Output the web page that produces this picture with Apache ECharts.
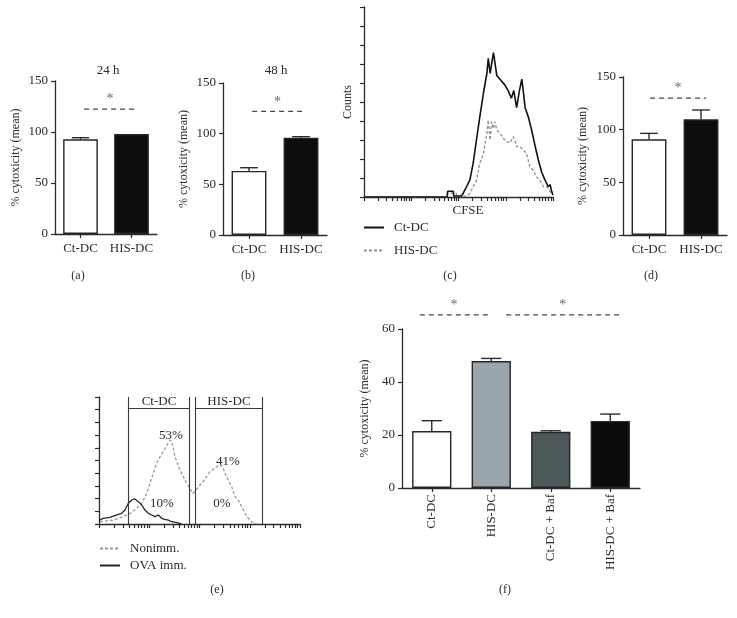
<!DOCTYPE html>
<html><head><meta charset="utf-8">
<script src="https://cdn.jsdelivr.net/npm/echarts@6/dist/echarts.min.js"></script>
<style>html,body{margin:0;padding:0;background:#fff}#main{width:737px;height:618px}</style>
</head><body><div id="main"></div>
<script>
// ---------- data ----------
const barCats = ['Ct-DC', 'HIS-DC'];
const aMean = [92.8, 98.0];
const aUpper = [94.4, 98.0];
const bMean = [63.2, 96.0];
const bUpper = [66.4, 97.0];
const dMean = [90.9, 109.8];
const dUpper = [96.5, 118.7];
const abdTicks = [0, 50, 100, 150];

const fCats = ['Ct-DC', 'HIS-DC', 'Ct-DC + Baf', 'HIS-DC + Baf'];
const fMean = [21.5, 47.9, 21.2, 25.3];
const fUpper = [25.4, 48.9, 21.6, 27.9];
const fTicks = [0, 20, 40, 60];

// significance bars: [from, to, level] in category-band units
const aSig = [0.57, 1.59, 122.5];
const bSig = [0.56, 1.54, 122.0];
const dSig = [0.52, 1.60, 130.0];
const fSig1 = [0.30, 1.45, 65.3];
const fSig2 = [1.75, 3.65, 65.3];

// panel (c) CFSE histograms (x: log10 intensity, y: relative counts)
const cCtX = [0,1.76,1.77,1.89,1.90,2.06,2.10,2.17,2.24,2.31,2.38,2.45,2.53,2.60,2.63,2.67,2.70,2.74,2.77,2.81,2.84,2.91,2.98,3.05,3.12,3.17,3.23,3.29,3.34,3.37,3.41,3.48,3.55,3.62,3.69,3.76,3.83,3.90,3.94,3.97,4.0];
const cCtY = [0,0,3,3,0.5,0.5,2,5.4,8.9,17.7,30,42,55,65,73,65,70,76,77,64,63,61,59,56,52,56,47,56,62,56,47,42,35,27,19.5,13,9,5.4,6.5,3,1];
const cHisX = [0,1.76,1.77,1.95,1.96,2.17,2.24,2.31,2.38,2.45,2.53,2.60,2.63,2.67,2.70,2.74,2.77,2.81,2.88,2.95,3.02,3.09,3.16,3.20,3.23,3.30,3.37,3.44,3.51,3.58,3.65,3.72,3.80,3.87,3.94,3.99];
const cHisY = [0,0,2,2,0.5,0.5,1.9,5.4,8.6,17.7,23,33.5,40.5,30,39.6,36,39.6,35.3,33.5,30.9,29.1,28.5,31.8,29.1,26.5,26.5,24.7,23,15.9,14.2,10.5,8.9,5.4,5.4,2.8,1.9];

// panel (e) histograms
const eNonX = [0.02,0.285,0.484,0.617,0.750,0.849,0.949,1.015,1.081,1.148,1.214,1.280,1.333,1.380,1.426,1.466,1.512,1.559,1.612,1.678,1.745,1.811,1.864,1.910,1.957,2.010,2.076,2.143,2.209,2.275,2.342,2.408,2.461,2.507,2.574,2.640,2.706,2.773,2.839,2.905,2.972,3.038,3.138];
const eNonY = [1.8,3.1,5.8,8.4,12.3,16.3,24.1,32.0,39.9,47.8,53.0,57.0,60.9,64.0,66.1,62.2,53.0,47.8,42.5,37.3,32.0,28.1,24.1,25.5,28.1,30.7,33.3,37.3,41.2,43.0,45.1,46.5,45.1,39.9,34.6,29.4,21.5,18.9,13.6,8.4,4.5,1.8,0];
const eOvaX = [0.007,0.086,0.219,0.352,0.451,0.517,0.584,0.650,0.716,0.783,0.849,0.915,0.982,1.048,1.114,1.181,1.247,1.313,1.380,1.446,1.546,1.645];
const eOvaY = [3.1,4.5,5.2,7.1,8.4,11.0,16.3,18.9,19.7,17.6,15.0,11.0,8.4,7.1,5.8,7.1,4.5,3.7,3.1,1.8,1.0,0];
const eGateCt = [0.577, 1.791];
const eGateHis = [1.910, 3.244];
const eGateLevel = 91.3;
const histDecades = 4;

// ---------- styles ----------
const FONT = 'Liberation Serif';
const INK = '#2b2b2b';
const abColors = ['#ffffff', '#0d0d0d'];
const fColors = ['#ffffff', '#9aa6aa', '#4d585b', '#0b0b0b'];

const zip = (xs, ys) => xs.map((x, i) => [x, ys[i]]);
const logTicks = [];
for (let d = 0; d < histDecades; d++) for (let k = 1; k <= 9; k++) logTicks.push(d + Math.log10(k));
logTicks.push(histDecades);

const axLine = { show: true, lineStyle: { color: INK, width: 1.3 } };
const axTick = { show: true, length: 4, lineStyle: { color: INK, width: 1.2 } };
const lbl = { fontFamily: FONT, fontSize: 13, color: INK };

function errRender(params, api) {
  const i = api.value(0), m = api.value(1), u = api.value(2);
  if (u <= m) return null;
  const p0 = api.coord([i, m]), p1 = api.coord([i, u]);
  const w = api.size([1, 0])[0] * 0.34;
  const st = { stroke: INK, lineWidth: 1.4 };
  return { type: 'group', children: [
    { type: 'line', shape: { x1: p0[0], y1: p0[1], x2: p1[0], y2: p1[1] }, style: st },
    { type: 'line', shape: { x1: p1[0] - w / 2, y1: p1[1], x2: p1[0] + w / 2, y2: p1[1] }, style: st }
  ]};
}

function barPanel(gi, xCat, xVal, yi, cats, means, uppers, colors, barW, sigs) {
  const s = [];
  s.push({ type: 'bar', xAxisIndex: xCat, yAxisIndex: yi, barWidth: barW, silent: true,
    data: means.map((v, i) => ({ value: v, itemStyle: { color: colors[i] } })),
    itemStyle: { borderColor: '#262626', borderWidth: 1.4 } });
  s.push({ type: 'custom', xAxisIndex: xCat, yAxisIndex: yi, z: 5, silent: true, renderItem: errRender,
    encode: { x: 0, y: [1, 2] }, data: means.map((m, i) => [i, m, uppers[i]]) });
  sigs.forEach(sg => {
    s.push({ type: 'line', xAxisIndex: xVal, yAxisIndex: yi, symbol: 'none', clip: false, silent: true,
      lineStyle: { type: [5, 4], color: '#4a4a4a', width: 1.3 }, data: [[sg[0], sg[2]], [sg[1], sg[2]]] });
    s.push({ type: 'scatter', xAxisIndex: xVal, yAxisIndex: yi, clip: false, silent: true, symbolSize: 1,
      itemStyle: { color: 'rgba(0,0,0,0)' }, data: [[(sg[0] + sg[1]) / 2, sg[2]]],
      label: { show: true, formatter: '*', position: 'top', distance: 2, fontFamily: FONT, fontSize: 14, color: '#444' } });
  });
  return s;
}

const grids = [
  { left: 55, top: 81, width: 102, height: 153 },   // a
  { left: 223, top: 83, width: 104, height: 152 },  // b
  { left: 364, top: 7, width: 189, height: 190 },   // c
  { left: 623, top: 77, width: 104, height: 158 },  // d
  { left: 99, top: 397, width: 201, height: 127 },  // e
  { left: 402, top: 329, width: 238, height: 159 }  // f
].map(g => Object.assign({ outerBoundsMode: 'none', containLabel: false }, g));

const catAxis = (gi, data, extra) => Object.assign({ type: 'category', gridIndex: gi, data: data,
  axisLine: axLine, axisTick: Object.assign({ alignWithLabel: true }, axTick),
  axisLabel: Object.assign({ margin: 8, interval: 0 }, lbl) }, extra || {});
const hidVal = (gi, n) => ({ type: 'value', gridIndex: gi, min: 0, max: n, show: false });
const histX = gi => ({ type: 'value', gridIndex: gi, min: 0, max: histDecades, axisLine: axLine,
  axisTick: Object.assign({ customValues: logTicks }, axTick), axisLabel: { show: false }, splitLine: { show: false } });
const valY = (gi, ticks, gap) => ({ type: 'value', gridIndex: gi, min: ticks[0], max: ticks[ticks.length - 1],
  interval: ticks[1] - ticks[0], axisLine: axLine, axisTick: axTick, splitLine: { show: false },
  axisLabel: Object.assign({ margin: 7 }, lbl),
  name: '% cytoxicity (mean)', nameLocation: 'middle', nameGap: gap, nameTextStyle: { fontFamily: FONT, fontSize: 12, color: INK } });
const histY = (gi, name) => ({ type: 'value', gridIndex: gi, min: 0, max: 100, interval: 10, axisLine: axLine,
  axisTick: axTick, axisLabel: { show: false }, splitLine: { show: false },
  name: name || '', nameLocation: 'middle', nameGap: 10, nameTextStyle: { fontFamily: FONT, fontSize: 12, color: INK } });

const xAxis = [
  catAxis(0, barCats), hidVal(0, barCats.length),        // 0,1
  catAxis(1, barCats), hidVal(1, barCats.length),        // 2,3
  histX(2),                                               // 4
  catAxis(3, barCats), hidVal(3, barCats.length),        // 5,6
  histX(4),                                               // 7
  catAxis(5, fCats, { axisLabel: Object.assign({ rotate: 90, margin: 6, interval: 0 }, lbl) }), hidVal(5, fCats.length) // 8,9
];
const yAxis = [
  valY(0, abdTicks, 33), valY(1, abdTicks, 33), histY(2, 'Counts'), valY(3, abdTicks, 34), histY(4), valY(5, fTicks, 31)
];

let series = [];
series = series.concat(barPanel(0, 0, 1, 0, barCats, aMean, aUpper, abColors, '68%', [aSig]));
series = series.concat(barPanel(1, 2, 3, 1, barCats, bMean, bUpper, abColors, '67%', [bSig]));
series = series.concat(barPanel(3, 5, 6, 3, barCats, dMean, dUpper, abColors, '67%', [dSig]));
series = series.concat(barPanel(5, 8, 9, 5, fCats, fMean, fUpper, fColors, '66%', [fSig1, fSig2]));

series.push({ name: 'HIS-DC', type: 'line', xAxisIndex: 4, yAxisIndex: 2, symbol: 'none', silent: true,
  lineStyle: { color: '#8f8f8f', width: 1.3, type: [3, 2] }, itemStyle: { color: '#8f8f8f' }, data: zip(cHisX, cHisY) });
series.push({ name: 'Ct-DC', type: 'line', xAxisIndex: 4, yAxisIndex: 2, symbol: 'none', silent: true,
  lineStyle: { color: '#111', width: 1.6 }, itemStyle: { color: '#111' }, data: zip(cCtX, cCtY) });

const gateSeg = (g) => [
  [{ coord: [g[0], 0] }, { coord: [g[0], 100] }],
  [{ coord: [g[0], eGateLevel] }, { coord: [g[1], eGateLevel] }],
  [{ coord: [g[1], 0] }, { coord: [g[1], 100] }]
];
series.push({ name: 'Nonimm.', type: 'line', xAxisIndex: 7, yAxisIndex: 4, symbol: 'none', silent: true,
  lineStyle: { color: '#9a9a9a', width: 1.3, type: [3, 2] }, itemStyle: { color: '#9a9a9a' }, data: zip(eNonX, eNonY) });
series.push({ name: 'OVA imm.', type: 'line', xAxisIndex: 7, yAxisIndex: 4, symbol: 'none', silent: true,
  lineStyle: { color: '#262626', width: 1.3 }, itemStyle: { color: '#262626' }, data: zip(eOvaX, eOvaY),
  markLine: { silent: true, symbol: ['none', 'none'], label: { show: false }, animation: false,
    lineStyle: { color: '#3a3a3a', width: 1.1, type: 'solid' },
    data: gateSeg(eGateCt).concat(gateSeg(eGateHis)) } });

const T = (x, y, s, size) => ({ type: 'text', x: x, y: y, silent: true,
  style: { text: s, align: 'center', verticalAlign: 'middle', textAlign: 'center', textVerticalAlign: 'middle',
    font: (size || 13) + 'px "' + FONT + '"', fill: INK } });

const graphic = [
  T(108, 71, '24 h'), T(276, 71, '48 h'),
  T(468, 211, 'CFSE', 13),
  T(159, 402, 'Ct-DC'), T(229, 402, 'HIS-DC'),
  T(171, 436, '53%'), T(162, 504, '10%'), T(228, 462, '41%'), T(222, 504, '0%'),
  T(78, 276, '(a)', 12), T(248, 276, '(b)', 12), T(450, 276, '(c)', 12), T(651, 276, '(d)', 12),
  T(217, 590, '(e)', 12), T(505, 590, '(f)', 12)
];

const legendBase = { orient: 'vertical', itemWidth: 20, itemHeight: 10, selectedMode: false, padding: 0,
  itemStyle: { opacity: 0 },
  textStyle: { fontFamily: FONT, fontSize: 13, color: INK, padding: [0, 0, 0, 5] } };

const chart = echarts.init(document.getElementById('main'), null, { renderer: 'canvas' });
chart.setOption({
  animation: false,
  backgroundColor: '#fff',
  textStyle: { fontFamily: FONT },
  grid: grids, xAxis: xAxis, yAxis: yAxis, series: series, graphic: graphic,
  legend: [
    Object.assign({ left: 363, top: 221, itemGap: 10, data: ['Ct-DC', 'HIS-DC'] }, legendBase),
    Object.assign({ left: 99, top: 542, itemGap: 4, data: ['Nonimm.', 'OVA imm.'] }, legendBase)
  ]
});
</script></body></html>
